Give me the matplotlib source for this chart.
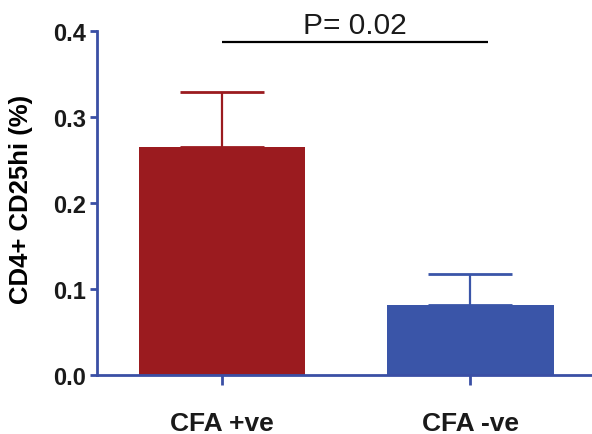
import matplotlib
matplotlib.use("Agg")
import matplotlib.pyplot as plt

categories = ["CFA +ve", "CFA -ve"]
means = [0.265, 0.081]
errors = [0.064, 0.036]
bar_colors = ["#9b1b1f", "#3a55a8"]
p_text = "P= 0.02"
p_level = 0.388
yticks = [0.0, 0.1, 0.2, 0.3, 0.4]

plt.rcParams['font.family'] = ['Liberation Sans', 'DejaVu Sans']
fig = plt.figure(figsize=(5.92, 4.35), dpi=100)
ax = fig.add_axes([0.164, 0.1356, 0.836, 0.7904])
axis_color = "#3a4fa5"

x = list(range(len(categories)))
for xi, m, e, c in zip(x, means, errors, bar_colors):
    ax.bar(xi, m, width=0.67, color=c, zorder=2)
    ax.errorbar(xi, m, yerr=[[0], [e]], fmt='none', ecolor=c, elinewidth=1.6,
                capsize=30.5, capthick=2.0, zorder=3)

ax.plot([x[0], x[1] + 0.07], [p_level, p_level], color='black', lw=1.6, zorder=3,
        solid_capstyle='butt')
ax.text((x[0] + x[1] + 0.07) / 2, p_level + 0.003, p_text, ha='center', va='bottom',
        fontsize=21.5, color='#1a1a1a')

ax.set_xlim(-0.504, 1.49)
ax.set_ylim(0, 0.4)
ax.set_yticks(yticks)
ax.set_yticklabels([f"{v:.1f}" for v in yticks], fontsize=17, fontweight='bold')
ax.set_xticks(x)
ax.set_xticklabels(categories, fontsize=19, fontweight='bold')
ax.set_ylabel("CD4+ CD25hi (%)", fontsize=18.5, fontweight='bold')
ax.yaxis.set_label_coords(-0.129, 0.515)

for s in ['top', 'right']:
    ax.spines[s].set_visible(False)
for s in ['left', 'bottom']:
    ax.spines[s].set_color(axis_color)
    ax.spines[s].set_linewidth(2.0)
ax.tick_params(axis='both', colors=axis_color, width=2.0, length=5, labelcolor='#1a1a1a')
ax.tick_params(axis='x', pad=19, length=7)
ax.tick_params(axis='y', pad=3)

fig.savefig("out.png", dpi=100)
